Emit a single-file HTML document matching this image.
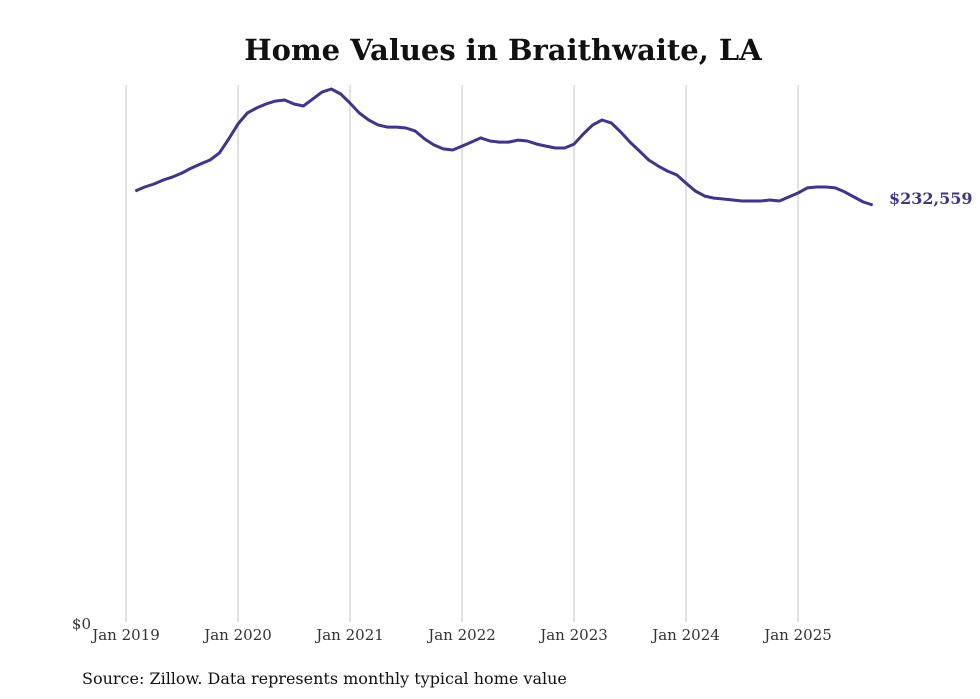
<!DOCTYPE html>
<html><head><meta charset="utf-8"><style>
html,body{margin:0;padding:0;background:#fff;}
svg{display:block;font-family:"DejaVu Serif","Liberation Serif",serif;}
</style></head><body>
<svg id="chart" width="980" height="699" viewBox="0 0 980 699">
<text x="503" y="60" text-anchor="middle" font-size="29" font-weight="bold" fill="#111">Home Values in Braithwaite, LA</text>
<g id="grid"></g>
<g id="xticks"></g>
<text x="91" y="629" text-anchor="end" font-size="15" fill="#333">$0</text>
<path id="line" fill="none" stroke="#3f3393" stroke-width="3" stroke-linejoin="round"></path>
<text id="endlabel" x="889" y="205" font-size="16" font-weight="bold" fill="#3d3590">$232,559</text>
<text x="82" y="684" font-size="16" fill="#111">Source: Zillow. Data represents monthly typical home value</text>
</svg>
<script>
const years = [2019,2020,2021,2022,2023,2024,2025];
const tickLabels = ["Jan 2019","Jan 2020","Jan 2021","Jan 2022","Jan 2023","Jan 2024","Jan 2025"];
const startMonthIndex = 1; // Feb 2019
const values = [240.3,242.5,244.2,246.4,248.1,250.3,253.0,255.3,257.5,261.3,269.1,277.4,283.5,286.3,288.5,290.1,290.7,288.5,287.4,291.2,295.1,296.8,294.0,289.0,283.5,279.6,276.9,275.7,275.7,275.2,273.5,269.1,265.8,263.6,263.0,265.2,267.4,269.7,268.0,267.4,267.4,268.5,268.0,266.3,265.2,264.1,264.1,266.3,271.9,276.9,279.6,278.0,273.0,267.4,262.5,257.5,254.2,251.4,249.2,244.7,240.3,237.5,236.4,235.9,235.3,234.8,234.8,234.8,235.3,234.8,237.0,239.2,242.0,242.5,242.5,242.0,239.8,237.0,234.2,232.559];
const NS="http://www.w3.org/2000/svg";
function xScale(m){return 126 + m*(112/12);}
function yScale(v){return 625 - v*(420/232.559);}
const grid=document.getElementById('grid'), xt=document.getElementById('xticks');
years.forEach((yr,i)=>{
  const x=xScale((yr-2019)*12);
  const l=document.createElementNS(NS,'line');
  l.setAttribute('x1',x);l.setAttribute('x2',x);l.setAttribute('y1',85);l.setAttribute('y2',622);
  l.setAttribute('stroke','#c4c4c4');l.setAttribute('stroke-width','1');
  
  
  grid.appendChild(l);
  const t=document.createElementNS(NS,'text');
  t.setAttribute('x',x);t.setAttribute('y',640);t.setAttribute('text-anchor','middle');
  t.setAttribute('font-size','15');t.setAttribute('fill','#333');
  t.textContent=tickLabels[i];
  
  
  xt.appendChild(t);
});
let d='';
values.forEach((v,i)=>{d+=(i?'L':'M')+xScale(startMonthIndex+i).toFixed(1)+','+yScale(v).toFixed(1);});
document.getElementById('line').setAttribute('d',d);
const lv=values[values.length-1];
const el=document.getElementById('endlabel');
el.setAttribute('y',(yScale(lv)-1).toFixed(1));
el.textContent='$'+Math.round(lv*1000).toLocaleString('en-US');
</script>
</body></html>
